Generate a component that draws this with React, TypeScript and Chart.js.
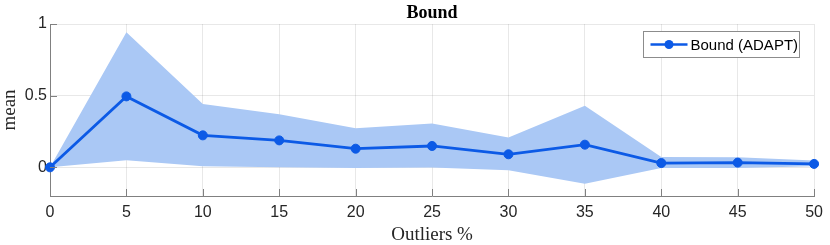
import React, { useEffect, useRef } from "react";
import { Chart, registerables } from "chart.js";

Chart.register(...registerables);

const outliers = [0, 5, 10, 15, 20, 25, 30, 35, 40, 45, 50];
const meanValues = [0, 0.495, 0.223, 0.188, 0.13, 0.149, 0.091, 0.158, 0.03, 0.033, 0.024];
const upperValues = [0, 0.942, 0.442, 0.37, 0.272, 0.305, 0.209, 0.43, 0.072, 0.07, 0.047];
const lowerValues = [0, 0.049, 0.007, 0.0, -0.005, -0.002, -0.021, -0.114, -0.005, -0.005, 0.007];
const yTicks = [0, 0.5, 1];
const xTicks = [0, 5, 10, 15, 20, 25, 30, 35, 40, 45, 50];

const titleText = "Bound";
const xLabel = "Outliers %";
const yLabel = "mean";
const legendLabel = "Bound (ADAPT)";

const LINE = "#0c5ae6";
const FILL = "#aac8f5";
const AXIS = "#808080";
const TEXT = "#262626";

const decorPlugin = {
  id: "decor",
  afterDraw(chart: any) {
    const ctx = chart.ctx;
    const a = chart.chartArea;
    ctx.save();
    ctx.strokeStyle = AXIS;
    ctx.lineWidth = 1;
    const xs = chart.scales.x;
    const ys = chart.scales.y;
    xTicks.forEach((t) => {
      const px = Math.round(xs.getPixelForValue(t)) + 0.5;
      ctx.beginPath();
      ctx.moveTo(px, a.bottom);
      ctx.lineTo(px, a.bottom - 7);
      ctx.stroke();
    });
    yTicks.forEach((t) => {
      const py = Math.round(ys.getPixelForValue(t)) + 0.5;
      ctx.beginPath();
      ctx.moveTo(a.left, py);
      ctx.lineTo(a.left + 7, py);
      ctx.stroke();
    });
    ctx.fillStyle = "#000";
    ctx.textAlign = "center";
    ctx.textBaseline = "middle";
    ctx.font = "bold 18px 'Liberation Serif', 'Times New Roman', serif";
    ctx.fillText(titleText, (a.left + a.right) / 2, 13);
    ctx.fillStyle = TEXT;
    ctx.font = "19px 'Liberation Serif', 'Times New Roman', serif";
    ctx.fillText(xLabel, (a.left + a.right) / 2, 235);
    ctx.save();
    ctx.translate(10, (a.top + a.bottom) / 2);
    ctx.rotate(-Math.PI / 2);
    ctx.fillText(yLabel, 0, 0);
    ctx.restore();
    const lx = 643.5, ly = 31.5, lw = 156, lh = 26;
    ctx.fillStyle = "#fff";
    ctx.fillRect(lx, ly, lw, lh);
    ctx.strokeStyle = "#8c8c8c";
    ctx.lineWidth = 1;
    ctx.strokeRect(lx, ly, lw, lh);
    const cy = ly + lh / 2;
    ctx.strokeStyle = LINE;
    ctx.lineWidth = 2.5;
    ctx.beginPath();
    ctx.moveTo(lx + 7, cy);
    ctx.lineTo(lx + 44, cy);
    ctx.stroke();
    ctx.fillStyle = LINE;
    ctx.beginPath();
    ctx.arc(lx + 25.5, cy, 4.5, 0, Math.PI * 2);
    ctx.fill();
    ctx.fillStyle = "#000";
    ctx.textAlign = "left";
    ctx.font = "15px 'Liberation Sans', Arial, sans-serif";
    ctx.fillText(legendLabel, lx + 47, cy + 1);
    ctx.restore();
  },
};

export default function App() {
  const ref = useRef<HTMLCanvasElement | null>(null);
  useEffect(() => {
    document.body.style.margin = "0";
    const canvas = ref.current;
    if (!canvas) return;
    const tickFont = { family: "'Liberation Sans', Arial, sans-serif", size: 16 };
    const chart = new Chart(canvas, {
      type: "line",
      data: {
        labels: outliers,
        datasets: [
          {
            label: "upper",
            data: outliers.map((x, i) => ({ x, y: upperValues[i] })),
            borderWidth: 0,
            pointRadius: 0,
            borderColor: "rgba(0,0,0,0)",
            fill: false,
            order: 2,
          },
          {
            label: "lower",
            data: outliers.map((x, i) => ({ x, y: lowerValues[i] })),
            borderWidth: 0,
            pointRadius: 0,
            borderColor: "rgba(0,0,0,0)",
            backgroundColor: FILL,
            fill: "-1",
            order: 1,
          },
          {
            label: legendLabel,
            data: outliers.map((x, i) => ({ x, y: meanValues[i] })),
            borderColor: LINE,
            backgroundColor: LINE,
            borderWidth: 2.8,
            pointRadius: 4.5,
            pointBackgroundColor: LINE,
            pointBorderColor: LINE,
            pointBorderWidth: 1,
            fill: false,
            clip: false,
            order: 0,
          },
        ],
      } as any,
      options: {
        responsive: false,
        animation: false,
        layout: { padding: { top: 24, right: 13, left: 0, bottom: 0 } },
        plugins: {
          legend: { display: false },
          title: { display: false },
          tooltip: { enabled: false },
        },
        scales: {
          x: {
            type: "linear",
            min: 0,
            max: 50,
            afterBuildTicks: (s: any) => {
              s.ticks = xTicks.map((v) => ({ value: v }));
            },
            afterFit: (s: any) => {
              s.height = 49;
            },
            ticks: { font: tickFont, color: TEXT, padding: 7, maxRotation: 0, autoSkip: false },
            grid: { color: "rgba(0,0,0,0.09)", drawTicks: false, lineWidth: 1 },
            border: { color: AXIS, width: 1 },
          },
          y: {
            type: "linear",
            min: -0.2,
            max: 1,
            afterBuildTicks: (s: any) => {
              s.ticks = yTicks.map((v) => ({ value: v }));
            },
            afterFit: (s: any) => {
              s.width = 50;
            },
            ticks: {
              font: tickFont,
              color: TEXT,
              padding: 3,
              callback: (v: any) => String(v),
            },
            grid: { color: "rgba(0,0,0,0.09)", drawTicks: false, lineWidth: 1 },
            border: { color: AXIS, width: 1 },
          },
        },
      } as any,
      plugins: [decorPlugin],
    });
    return () => chart.destroy();
  }, []);
  return (
    <div style={{ width: 830, height: 245 }}>
      <canvas ref={ref} width={830} height={245} style={{ display: "block" }} />
    </div>
  );
}
